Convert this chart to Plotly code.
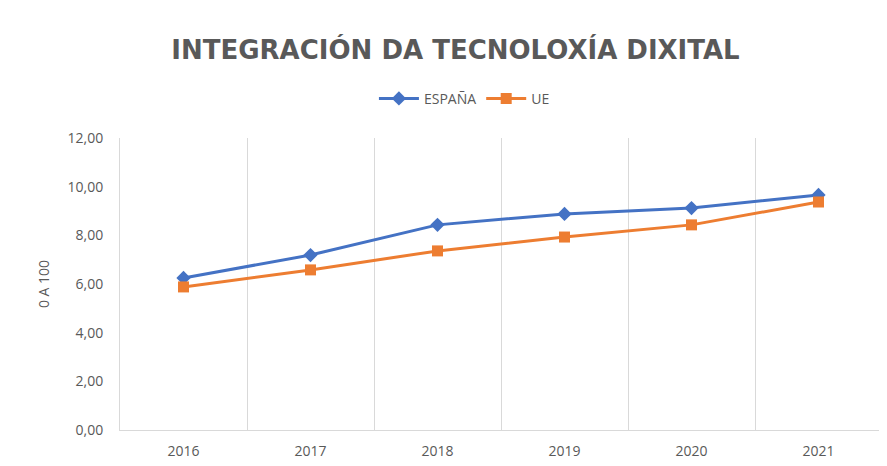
import plotly.graph_objects as go

years = ["2016", "2017", "2018", "2019", "2020", "2021"]
espana = [6.25, 7.19, 8.43, 8.88, 9.12, 9.66]
ue = [5.88, 6.58, 7.36, 7.93, 8.43, 9.37]

fig = go.Figure()
fig.add_trace(go.Scatter(x=years, y=espana, name="ESPAÑA", mode="lines+markers",
                         line=dict(color="#4472C4", width=3),
                         marker=dict(symbol="diamond", size=11, color="#4472C4")))
fig.add_trace(go.Scatter(x=years, y=ue, name="UE", mode="lines+markers",
                         line=dict(color="#ED7D31", width=3),
                         marker=dict(symbol="square", size=11, color="#ED7D31")))

fig.update_layout(
    width=887, height=466,
    margin=dict(l=112, r=13, t=130, b=44),
    paper_bgcolor="white", plot_bgcolor="white",
    separators=",.",
    font=dict(family="Open Sans", color="#595959"),
    title=dict(text="<b>INTEGRACIÓN DA TECNOLOXÍA DIXITAL</b>", x=447.5 / 887, xanchor="center",
               y=1 - 42 / 466, yanchor="middle",
               font=dict(family="DejaVu Sans", size=26, color="#595959")),
    legend=dict(orientation="h", x=0.452, xanchor="center", y=1.134, yanchor="middle",
                font=dict(size=14, color="#595959"), itemwidth=40),
    showlegend=True,
)
fig.update_xaxes(type="category", tickson="boundaries", showgrid=True, gridcolor="#D9D9D9",
                 gridwidth=1, showline=True, linecolor="#D9D9D9", linewidth=1,
                 ticks="", tickfont=dict(size=14, color="#595959"), range=[-0.5, 5.5],
                 ticklabelstandoff=8)
fig.update_yaxes(range=[0, 12], dtick=2, tickformat=".2f", showgrid=False, zeroline=False,
                 showline=True, linecolor="#D9D9D9", linewidth=1,
                 ticks="", tickfont=dict(size=14, color="#595959"),
                 ticklabelstandoff=13,
                 title=dict(text="0 A 100", font=dict(size=14, color="#595959"), standoff=14))

fig.write_html("out.html")
